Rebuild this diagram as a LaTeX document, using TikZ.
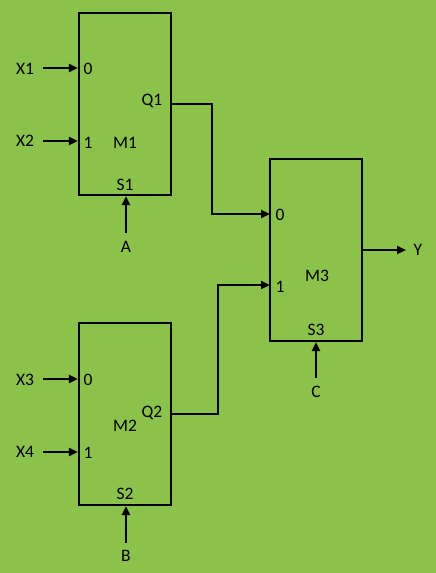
\documentclass[tikz,border=0pt]{standalone}
\usepackage{fontspec}
\setmainfont{Carlito}
\usetikzlibrary{arrows.meta}
\definecolor{bg}{RGB}{138,194,75}
\tikzset{
  mux/.style={draw=black, line width=2.2pt, minimum width=92pt, minimum height=182pt, inner sep=0pt},
  lbl/.style={inner sep=0pt, font=\fontsize{17.5}{19}\selectfont},
  wire/.style={line width=2.2pt},
  arr/.style={line width=2.2pt, -{Triangle[length=9pt,width=8pt]}},
}
\begin{document}
\begin{tikzpicture}[x=1pt,y=-1pt]
\fill[bg] (0,0) rectangle (436,573);
\useasboundingbox (0,0) rectangle (436,573);
% boxes
\node[mux] (M1) at (125,104) {};
\node[mux] (M2) at (125,414) {};
\node[mux] (M3) at (316,250) {};
% inner labels
\node[lbl] (M1l) at (125,143) {M1};
\node[lbl] (M2l) at (125,426) {M2};
\node[lbl] (M3l) at (317,276) {M3};
\node[lbl] (S1) at (125,185) {S1};
\node[lbl] (S2) at (125,494) {S2};
\node[lbl] (S3) at (316,330) {S3};
\node[lbl] (Q1) at (152,101) {Q1};
\node[lbl] (Q2) at (152,413) {Q2};
\node[lbl] (p10) at (88,69) {0};
\node[lbl] (p11) at (88,143) {1};
\node[lbl] (p20) at (88,380) {0};
\node[lbl] (p21) at (88,453) {1};
\node[lbl] (p30) at (280,215) {0};
\node[lbl] (p31) at (280,287) {1};
% external labels
\node[lbl] (X1) at (25,69) {X1};
\node[lbl] (X2) at (25,141) {X2};
\node[lbl] (X3) at (25,380) {X3};
\node[lbl] (X4) at (25,452) {X4};
\node[lbl] (A) at (126,247) {A};
\node[lbl] (B) at (126,556) {B};
\node[lbl] (C) at (316,392) {C};
\node[lbl] (Y) at (418,250) {Y};
% coordinates
\coordinate (x1s) at (43,68);
\coordinate (x2s) at (43,141);
\coordinate (x3s) at (43,379);
\coordinate (x4s) at (43,452);
\coordinate (as) at (126,233);
\coordinate (bs) at (126,543);
\coordinate (cs) at (316,378);
\coordinate (ye) at (406,250);
\coordinate (q1) at (171,104);
\coordinate (q2) at (171,414);
\coordinate (j1) at (212,104);
\coordinate (j2) at (218,414);
\coordinate (in30) at (270,214);
\coordinate (in31) at (270,285);
% inputs
\draw[arr] (x1s) -- (x1s -| M1.west);
\draw[arr] (x2s) -- (x2s -| M1.west);
\draw[arr] (x3s) -- (x3s -| M2.west);
\draw[arr] (x4s) -- (x4s -| M2.west);
\draw[arr] (as) -- (as |- M1.south);
\draw[arr] (bs) -- (bs |- M2.south);
\draw[arr] (cs) -- (cs |- M3.south);
\draw[arr] (ye -| M3.east) -- (ye);
% interconnects
\draw[wire, -{Triangle[length=9pt,width=8pt]}] (q1) -- (j1) -- (j1 |- in30) -- (in30);
\draw[wire, -{Triangle[length=9pt,width=8pt]}] (q2) -- (j2) -- (j2 |- in31) -- (in31);
\end{tikzpicture}
\end{document}
